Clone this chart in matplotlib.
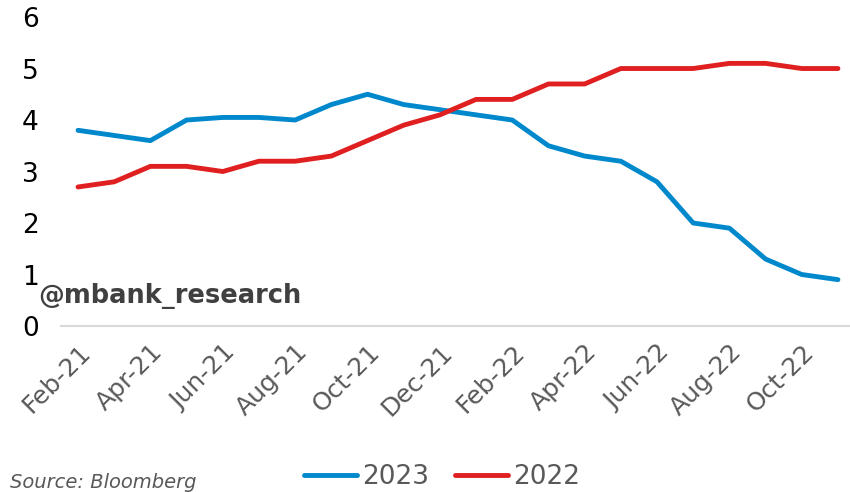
import matplotlib.pyplot as plt
import numpy as np

months = [
    "Feb-21", "Mar-21", "Apr-21", "May-21", "Jun-21", "Jul-21", "Aug-21",
    "Sep-21", "Oct-21", "Nov-21", "Dec-21", "Jan-22", "Feb-22", "Mar-22",
    "Apr-22", "May-22", "Jun-22", "Jul-22", "Aug-22", "Sep-22", "Oct-22",
    "Nov-22",
]
values_2023 = [3.8, 3.7, 3.6, 4.0, 4.05, 4.05, 4.0, 4.3, 4.5, 4.3, 4.2, 4.1,
               4.0, 3.5, 3.3, 3.2, 2.8, 2.0, 1.9, 1.3, 1.0, 0.9]
values_2022 = [2.7, 2.8, 3.1, 3.1, 3.0, 3.2, 3.2, 3.3, 3.6, 3.9, 4.1, 4.4,
               4.4, 4.7, 4.7, 5.0, 5.0, 5.0, 5.1, 5.1, 5.0, 5.0]

fig = plt.figure(figsize=(8.5, 4.92), dpi=100)
ax = fig.add_axes([0.0718, 0.3374, 0.9353, 0.628])

x = np.arange(len(months))
ax.plot(x, values_2023, color="#0088CC", lw=3.5, label="2023", solid_capstyle="round")
ax.plot(x, values_2022, color="#E02020", lw=3.5, label="2022", solid_capstyle="round")

ax.set_xlim(-0.47, 21.5)
ax.set_ylim(0, 6)
ax.set_yticks(range(7))
ax.set_xticks(x[::2])
ax.set_xticklabels(months[::2], rotation=45, ha="right", rotation_mode="anchor",
                   color="#595959", fontsize=18)
ax.tick_params(axis="y", labelsize=19, length=0, pad=16)
ax.tick_params(axis="x", length=0, pad=10)
for s in ["left", "right", "top"]:
    ax.spines[s].set_visible(False)
ax.spines["bottom"].set_color("#D9D9D9")
ax.spines["bottom"].set_linewidth(1.5)

fig.text(38 / 850, 1 - 296 / 492, "@mbank_research", fontsize=18.5,
         fontweight="bold", color="#404040", ha="left", va="center")

fig.legend(loc="center", bbox_to_anchor=(0.52, 1 - 477 / 492), ncol=2,
           frameon=False, fontsize=19, labelcolor="#595959",
           handlelength=2.0, handletextpad=0.2, columnspacing=1.0)
fig.text(0.012, 0.0, "Source: Bloomberg", fontsize=14, style="italic",
         color="#595959", ha="left", va="bottom")

fig.savefig("out.png", dpi=100)
